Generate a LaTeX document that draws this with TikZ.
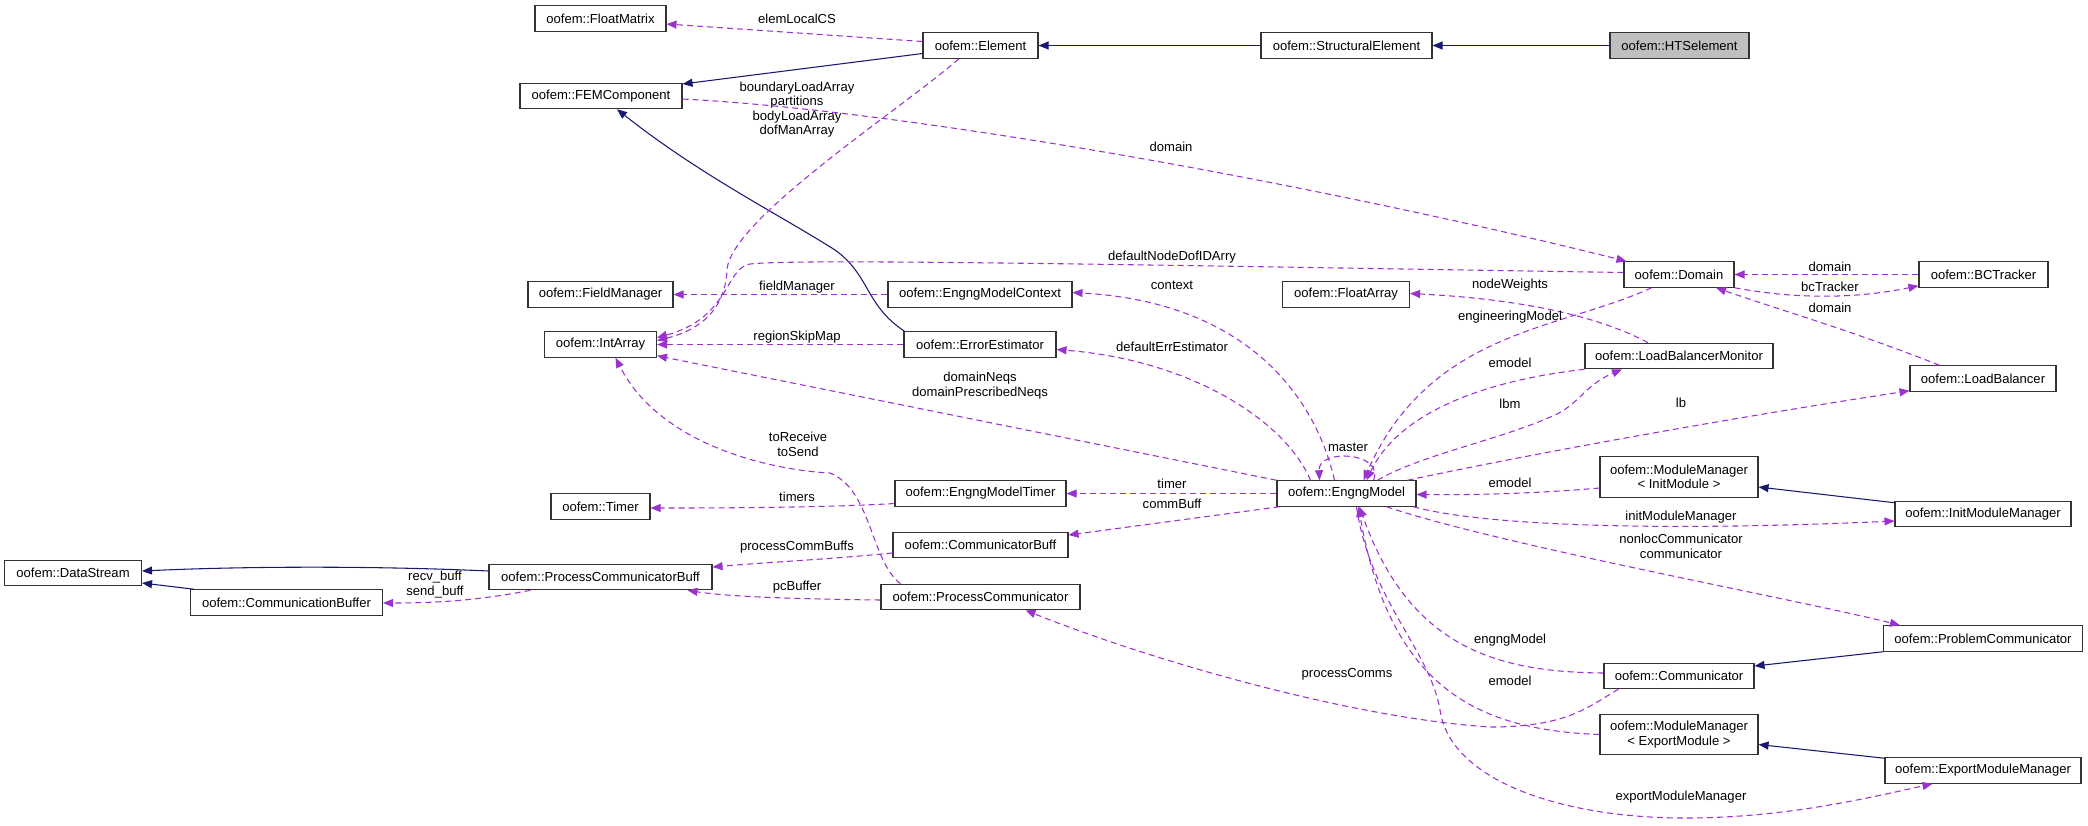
\documentclass[tikz,border=0pt]{standalone}
\usepackage{fontspec}
\setmainfont{Liberation Sans}
\usepackage{tikz}
\usetikzlibrary{calc, arrows.meta, positioning}

\definecolor{usecol}{HTML}{9A32CD}
\definecolor{inhcol}{HTML}{191970}
\definecolor{boxfill}{HTML}{BFBFBF}

\tikzset{
  cls/.style={draw=black!80, line width=0.8pt, rectangle, inner sep=0pt, align=center,
    font=\fontsize{9.8}{10.9}\selectfont, minimum height=19.1pt},
  clsw/.style={minimum width=#1*0.75pt},
  cls2/.style={cls, minimum height=30.4pt},
  lbl/.style={inner sep=0pt, align=center, font=\fontsize{9.8}{10.9}\selectfont},
  inh/.style={draw=inhcol, line width=0.8pt, -{Triangle[length=7.5pt,width=6pt]}},
  use/.style={draw=usecol, line width=0.8pt, dash pattern=on 4.5pt off 3pt,
    -{Triangle[length=7.5pt,width=6pt]}},
}

\begin{document}
\begin{tikzpicture}[x=0.75pt,y=-0.75pt]
  \useasboundingbox (0,0) rectangle (2088,825);

  % classes
  \node[cls, clsw=131] (float_matrix) at (600.5,18.5) {oofem::FloatMatrix};
  \node[cls, clsw=162] (fem_comp) at (601,96) {oofem::FEMComponent};
  \node[cls, clsw=115] (elem) at (980.5,45.5) {oofem::Element};
  \node[cls, clsw=171] (struct_elem) at (1346.5,45.5) {oofem::StructuralElement};
  \node[cls, clsw=139, fill=boxfill] (hts_elem) at (1679.5,45.5) {oofem::HTSelement};
  \node[cls, clsw=110] (domain) at (1679,274.5) {oofem::Domain};
  \node[cls, clsw=129] (bc_tracker) at (1983.5,274.5) {oofem::BCTracker};
  \node[cls, clsw=145] (field_manager) at (600.5,294.5) {oofem::FieldManager};
  \node[cls, clsw=112] (int_array) at (600.5,344.5) {oofem::IntArray};
  \node[cls, clsw=99] (timer) at (600.5,506.5) {oofem::Timer};
  \node[cls, clsw=184] (context) at (980,294.5) {oofem::EngngModelContext};
  \node[cls, clsw=152] (err_est) at (980,344.5) {oofem::ErrorEstimator};
  \node[cls, clsw=127] (float_array) at (1346,294.5) {oofem::FloatArray};
  \node[cls, clsw=171] (model_timer) at (980.5,493.5) {oofem::EngngModelTimer};
  \node[cls, clsw=139] (engng_model) at (1346.5,493.5) {oofem::EngngModel};
  \node[cls, clsw=175] (comm_buff) at (980.5,545) {oofem::CommunicatorBuff};
  \node[cls, clsw=188] (lb_monitor) at (1679,356) {oofem::LoadBalancerMonitor};
  \node[cls, clsw=146] (load_balancer) at (1983,378.5) {oofem::LoadBalancer};
  \node[cls2, clsw=158] (init_mm) at (1679,477) {oofem::ModuleManager\\< InitModule >};
  \node[cls, clsw=176] (init_module_manager) at (1983,514) {oofem::InitModuleManager};
  \node[cls, clsw=137] (data_stream) at (73,573) {oofem::DataStream};
  \node[cls, clsw=192] (comm_buffer) at (286.5,602.5) {oofem::CommunicationBuffer};
  \node[cls, clsw=223] (pc_buff) at (600.5,577) {oofem::ProcessCommunicatorBuff};
  \node[cls, clsw=199] (proc_comm) at (980.5,597) {oofem::ProcessCommunicator};
  \node[cls, clsw=199] (problem_comm) at (1983,638.5) {oofem::ProblemCommunicator};
  \node[cls, clsw=150] (communicator) at (1679,676) {oofem::Communicator};
  \node[cls2, clsw=158] (export_mm) at (1679,734.5) {oofem::ModuleManager\\< ExportModule >};
  \node[cls, clsw=196] (export_module_manager) at (1983,770.5) {oofem::ExportModuleManager};

  % inheritance
  \draw[inh] (struct_elem.west) -- (elem.east);
  \draw[inh] (hts_elem.west) -- (struct_elem.east);
  \draw[inh] ($(elem.west)+(0,8)$) -- ($(fem_comp.east)+(0,-12)$);
  \draw[inh] ($(err_est.north west)+(1,0)$) .. controls (865,305) and (870,275) .. (835,250)
    .. controls (780,215) and (700,175) .. ($(fem_comp.south)+(16,0)$);
  \draw[inh] ($(init_module_manager.north west)+(0,2)$) -- ($(init_mm.east)+(0,10)$);
  \draw[inh] (problem_comm.south west) -- ($(communicator.east)+(0,-10)$);
  \draw[inh] ($(export_module_manager.north west)+(0,1)$) -- ($(export_mm.east)+(0,10)$);
  \draw[inh] ($(pc_buff.west)+(0,-6)$) .. controls (380,566) and (250,566) .. ($(data_stream.east)+(0,-2)$);
  \draw[inh] ($(comm_buffer.north west)+(4,0)$) -- ($(data_stream.east)+(0,10)$);

  % usage
  \draw[use] ($(elem.west)+(0,-4)$) -- ($(float_matrix.east)+(0,5.5)$);
  \draw[use] ($(fem_comp.east)+(0,3)$) .. controls (900,110) and (1300,180) .. ($(domain.north west)+(3,0)$);
  \draw[use] ($(elem.south)+(-21.5,0)$) .. controls (900,110) and (730,220) .. (727,270)
    .. controls (725,310) and (700,330) .. ($(int_array.east)+(0,-4)$);
  \draw[use] ($(domain.west)+(0,-2)$) .. controls (1200,266) and (800,258) .. (750,264)
    .. controls (725,268) and (730,318) .. ($(int_array.east)+(0,-7)$);
  \draw[use] (context.west) -- (field_manager.east);
  \draw[use] (err_est.west) -- (int_array.east);
  \draw[use] (engng_model.north west) -- ($(int_array.south east)+(0,-2)$);
  \draw[use] ($(engng_model.north)+(-12,0)$) .. controls (1315,395) and (1245,302) .. ($(context.east)+(0,-2)$);
  \draw[use] ($(engng_model.north)+(-36,0)$) .. controls (1285,420) and (1190,360) .. ($(err_est.east)+(0,5)$);
  \draw[use] ($(engng_model.north)+(27,0)$) .. controls (1385,452) and (1318,448) .. ($(engng_model.north)+(-27,0)$);
  \draw[use] ($(domain.south west)+(28,0)$) .. controls (1560,330) and (1430,330) .. ($(engng_model.north)+(17,0)$);
  \draw[use] (lb_monitor.south west) .. controls (1490,380) and (1400,410) .. ($(engng_model.north)+(20,0)$);
  \draw[use] ($(engng_model.north east)+(-39,0)$) .. controls (1420,455) and (1500,440) .. (1555,415)
    .. controls (1580,403) and (1585,385) .. ($(lb_monitor.south)+(-57,0)$);
  \draw[use] ($(engng_model.north east)+(-9,0)$) .. controls (1550,450) and (1750,415) .. ($(load_balancer.south west)+(0,-1)$);
  \draw[use] ($(init_mm.west)+(0,11)$) .. controls (1530,494) and (1470,495) .. ($(engng_model.east)+(0,1)$);
  \draw[use] ($(engng_model.south east)+(-3,0)$) .. controls (1480,525) and (1650,532) .. ($(init_module_manager.west)+(0,7)$);
  \draw[use] ($(engng_model.south)+(40,0)$) .. controls (1500,545) and (1800,600) .. ($(problem_comm.north west)+(17,0)$);
  \draw[use] (engng_model.west) -- (model_timer.east);
  \draw[use] ($(engng_model.south west)+(3,0)$) -- ($(comm_buff.east)+(0,-10)$);
  \draw[use] ($(model_timer.west)+(0,10)$) .. controls (820,508) and (700,508) .. ($(timer.east)+(0,1.5)$);
  \draw[use] ($(comm_buff.west)+(0,8)$) .. controls (820,560) and (770,562) .. ($(pc_buff.east)+(0,-10)$);
  \draw[use] ($(proc_comm.west)+(0,3)$) .. controls (800,599) and (730,597) .. ($(pc_buff.south east)+(-25,0)$);
  \draw[use] ($(pc_buff.south west)+(42,0)$) .. controls (480,600) and (440,603) .. ($(comm_buffer.east)+(0,0.5)$);
  \draw[use] ($(proc_comm.north west)+(20,0)$) .. controls (870,560) and (872,490) .. (830,473)
    .. controls (770,470) and (660,445) .. ($(int_array.south)+(15,0)$);
  \draw[use] ($(communicator.south west)+(15,0)$) .. controls (1590,705) and (1570,727) .. (1490,727)
    .. controls (1350,718) and (1150,660) .. ($(proc_comm.south)+(45,0)$);
  \draw[use] ($(communicator.west)+(0,-3)$) .. controls (1500,672) and (1410,650) .. ($(engng_model.south)+(13,0)$);
  \draw[use] (export_mm.west) .. controls (1480,730) and (1390,690) .. ($(engng_model.south)+(12,0)$);
  \draw[use] ($(engng_model.south)+(10,0)$) .. controls (1370,600) and (1430,650) .. (1440,710)
    .. controls (1450,780) and (1560,818) .. (1685,818)
    .. controls (1780,818) and (1860,800) .. ($(export_module_manager.south west)+(48,0)$);
  \draw[use] (bc_tracker.west) -- (domain.east);
  \draw[use] (domain.south east) .. controls (1790,298) and (1850,300) .. ($(bc_tracker.south west)+(0,-2)$);
  \draw[use] ($(load_balancer.north west)+(30,0)$) .. controls (1850,330) and (1780,310) .. ($(domain.south)+(37,0)$);
  \draw[use] ($(lb_monitor.north)+(-31,0)$) .. controls (1610,322) and (1540,300) .. ($(float_array.east)+(0,-1)$);

  % labels
  \node[lbl] (lbl_elemlocalcs) at (797,19) {elemLocalCS};
  \node[lbl] (lbl_femdomain) at (1171,147) {domain};
  \node[lbl] (lbl_elemarrays) at (797,109.5) {boundaryLoadArray\\partitions\\bodyLoadArray\\dofManArray};
  \node[lbl] (lbl_nodedofid) at (1172,257) {defaultNodeDofIDArry};
  \node[lbl] (lbl_fieldmanager) at (797,287) {fieldManager};
  \node[lbl] (lbl_regionskip) at (797,337) {regionSkipMap};
  \node[lbl] (lbl_neqs) at (980,385.5) {domainNeqs\\domainPrescribedNeqs};
  \node[lbl] (lbl_context) at (1172,285) {context};
  \node[lbl] (lbl_errest) at (1172,347) {defaultErrEstimator};
  \node[lbl] (lbl_master) at (1348,447) {master};
  \node[lbl] (lbl_engmodel) at (1510,317) {engineeringModel};
  \node[lbl] (lbl_emodel_lbm) at (1510,363) {emodel};
  \node[lbl] (lbl_lbm) at (1510,404) {lbm};
  \node[lbl] (lbl_lb) at (1681,403) {lb};
  \node[lbl] (lbl_emodel_init) at (1510,483) {emodel};
  \node[lbl] (lbl_initmm) at (1681,517) {initModuleManager};
  \node[lbl] (lbl_comm) at (1681,546.5) {nonlocCommunicator\\communicator};
  \node[lbl] (lbl_timer) at (1172,484) {timer};
  \node[lbl] (lbl_commbuff) at (1172,504) {commBuff};
  \node[lbl] (lbl_timers) at (797,497) {timers};
  \node[lbl] (lbl_pcbuffs) at (797,547) {processCommBuffs};
  \node[lbl] (lbl_pcbuffer) at (797,587) {pcBuffer};
  \node[lbl] (lbl_buffs) at (435,584.5) {recv\_buff\\send\_buff};
  \node[lbl] (lbl_torecv) at (798,444.5) {toReceive\\toSend};
  \node[lbl] (lbl_proccomms) at (1347,674) {processComms};
  \node[lbl] (lbl_engngmodel) at (1510,640) {engngModel};
  \node[lbl] (lbl_emodel_exp) at (1510,681) {emodel};
  \node[lbl] (lbl_expmm) at (1681,797) {exportModuleManager};
  \node[lbl] (lbl_bcdomain) at (1830,267) {domain};
  \node[lbl] (lbl_bctracker) at (1830,287) {bcTracker};
  \node[lbl] (lbl_lbdomain) at (1830,308) {domain};
  \node[lbl] (lbl_nodeweights) at (1510,285) {nodeWeights};
\end{tikzpicture}
\end{document}
